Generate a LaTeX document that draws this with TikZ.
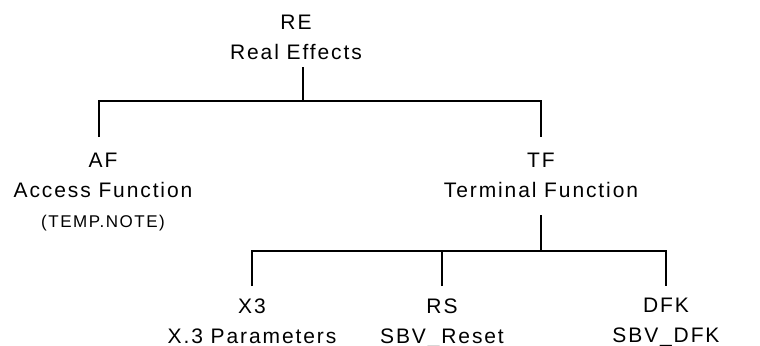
\documentclass[tikz,border=0pt]{standalone}
\usepackage{fontspec}
\setmainfont{Liberation Sans}[LetterSpace=9]
\usetikzlibrary{positioning}

\tikzset{
	fn/.style={align=center, inner sep=0pt, anchor=north, font=\fontsize{10.5}{15}\selectfont},
	link/.style={line width=1pt}
}

\begin{document}
\begin{tikzpicture}[x=0.5pt, y=-0.5pt]
	\useasboundingbox (0,0) rectangle (760,345);
	%Real Effects
		\node[fn] (re) at (296,15) {RE\\Real Effects};
		\coordinate (bar1) at (303,101);
		\draw[link] ([yshift=-3.5pt]re.south -| bar1) -- (bar1);
	%Access Function
		\node[fn] (af) at (103,153) {AF\\Access Function\\{\fontsize{8.5}{13.5}\selectfont (TEMP.NOTE)}};
	%Terminal Function
		\node[fn] (tf) at (541,153) {TF\\Terminal Function};
	%RE->AF, TF
		\coordinate (afpin) at (99,137);
		\draw[link] (afpin) |- (bar1) -| ([yshift=8pt]tf.north);
		\draw[link] ([yshift=8pt]af.north -| afpin) -- (afpin);
	%TF->children
		\coordinate (bar2) at (541,251);
		\draw[link] ([yshift=-8.5pt]tf.south) -- (bar2);
		\node[fn] (x3) at (252,298) {X3\\X.3 Parameters};
		\node[fn] (rs) at (442,298) {RS\\SBV\_Reset};
		\node[fn] (dfk) at (666,298) {DFK\\SBV\_DFK};
		\draw[link] ([yshift=6pt]x3.north) |- (bar2) -| ([yshift=6pt]dfk.north);
		\draw[link] ([yshift=6pt]rs.north) -- (rs.north |- bar2);
\end{tikzpicture}
\end{document}
